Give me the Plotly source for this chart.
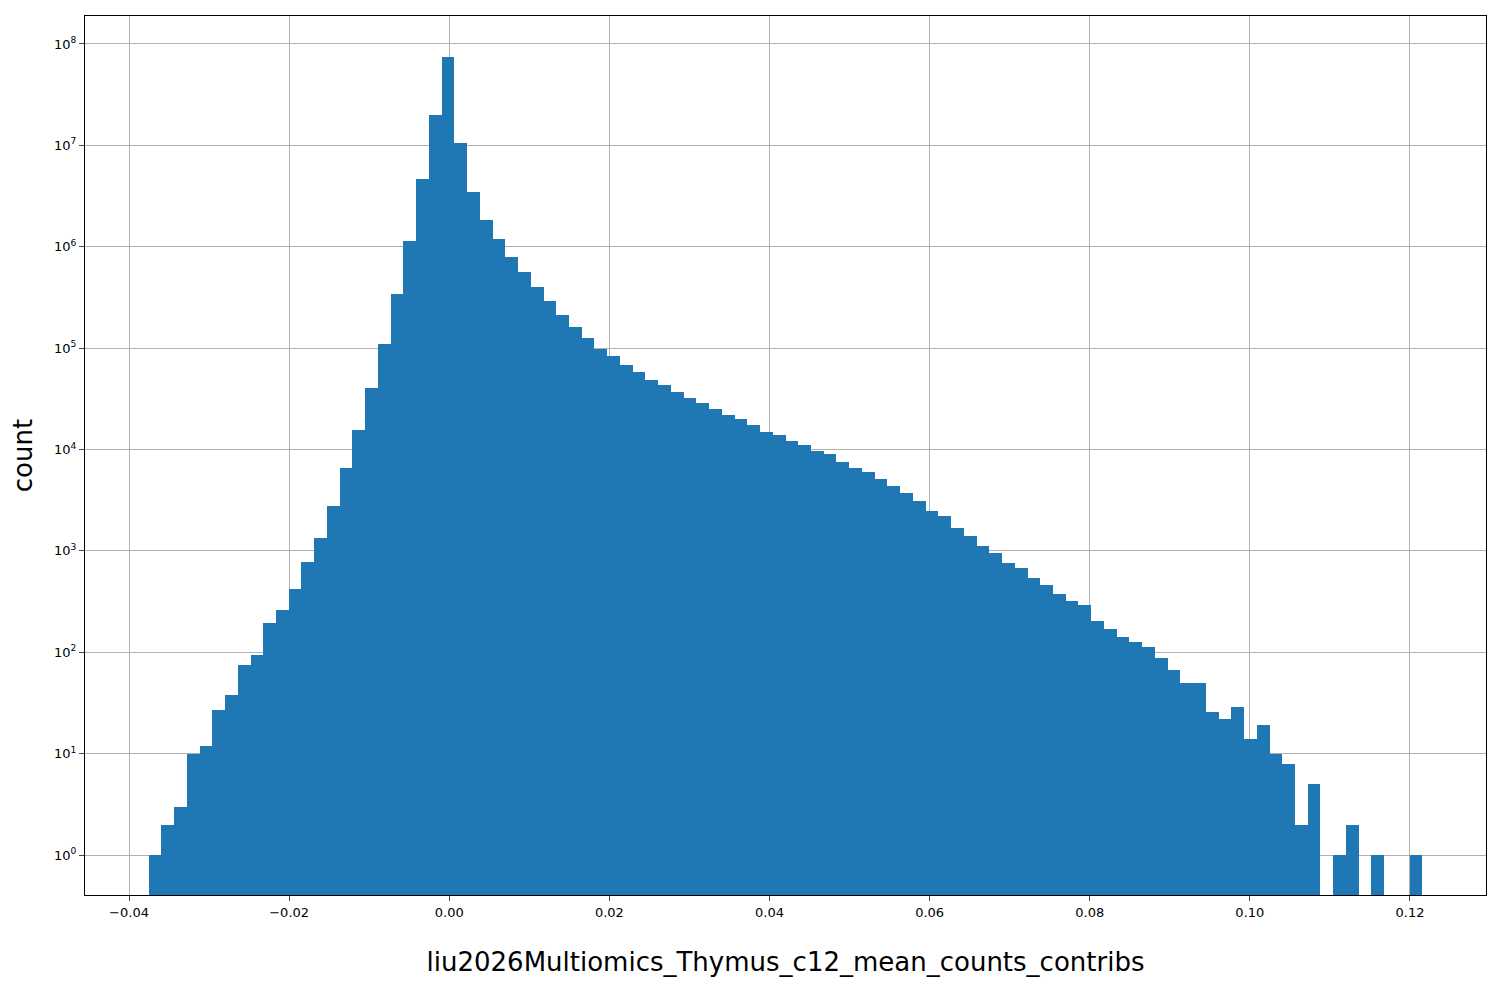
import plotly.graph_objects as go

bin_start = -0.03755
bin_end = 0.12155
counts = [1, 2, 3, 10, 12, 27, 38, 75, 95, 195,
          260, 420, 780, 1350, 2800, 6500, 15500, 40000, 110000, 340000,
          1.15e6, 4.7e6, 2.0e7, 7.5e7, 1.05e7, 3.5e6, 1.85e6, 1.2e6, 8.0e5, 5.6e5,
          4.0e5, 2.9e5, 2.1e5, 1.6e5, 1.25e5, 9.8e4, 8.3e4, 6.8e4, 5.8e4, 4.9e4,
          4.3e4, 3.7e4, 3.2e4, 2.85e4, 2.5e4, 2.2e4, 2.0e4, 1.75e4, 1.5e4, 1.4e4,
          1.2e4, 1.1e4, 9700, 9000, 7600, 6600, 6000, 5100, 4400, 3700,
          3100, 2500, 2200, 1700, 1400, 1120, 950, 760, 680, 540,
          460, 380, 320, 290, 205, 170, 140, 125, 112, 88,
          67, 50, 50, 26, 22, 29, 14, 19, 10, 8,
          2, 5, 0, 1, 2, 0, 1, 0, 0, 1]
x_ticks = [-0.04, -0.02, 0.0, 0.02, 0.04, 0.06, 0.08, 0.10, 0.12]
x_tick_labels = ["\u22120.04", "\u22120.02", "0.00", "0.02", "0.04", "0.06", "0.08", "0.10", "0.12"]
y_exps = list(range(0, 9))

n = len(counts)
w = (bin_end - bin_start) / n
xs, ys = [], []
for i, c in enumerate(counts):
    if c > 0:
        xs.append(bin_start + w * (i + 0.5))
        ys.append(c)

fig = go.Figure(go.Bar(x=xs, y=ys, width=w, marker=dict(color="#1f77b4", line=dict(width=0))))
fig.update_layout(
    width=1500, height=1000, plot_bgcolor="white", paper_bgcolor="white",
    margin=dict(l=77, r=22, t=8, b=113), showlegend=False, bargap=0,
    font=dict(family="DejaVu Sans", color="black"),
)
fig.update_xaxes(range=[-0.0455, 0.1295], tickvals=x_ticks, ticktext=x_tick_labels,
                 showgrid=True, gridcolor="#b0b0b0", gridwidth=1, zeroline=False,
                 showline=True, linecolor="black", mirror=True, ticks="outside",
                 tickfont=dict(size=13), title=dict(text="liu2026Multiomics_Thymus_c12_mean_counts_contribs",
                 font=dict(size=26), standoff=34))
fig.update_yaxes(type="log", range=[-0.394, 8.276], tickvals=[10**e for e in y_exps],
                 ticktext=["10<sup>%d</sup>" % e for e in y_exps],
                 showgrid=True, gridcolor="#b0b0b0", gridwidth=1, zeroline=False,
                 showline=True, linecolor="black", mirror=True, ticks="outside",
                 tickfont=dict(size=13), title=dict(text="count", font=dict(size=26), standoff=15))
fig.write_html("out.html")
